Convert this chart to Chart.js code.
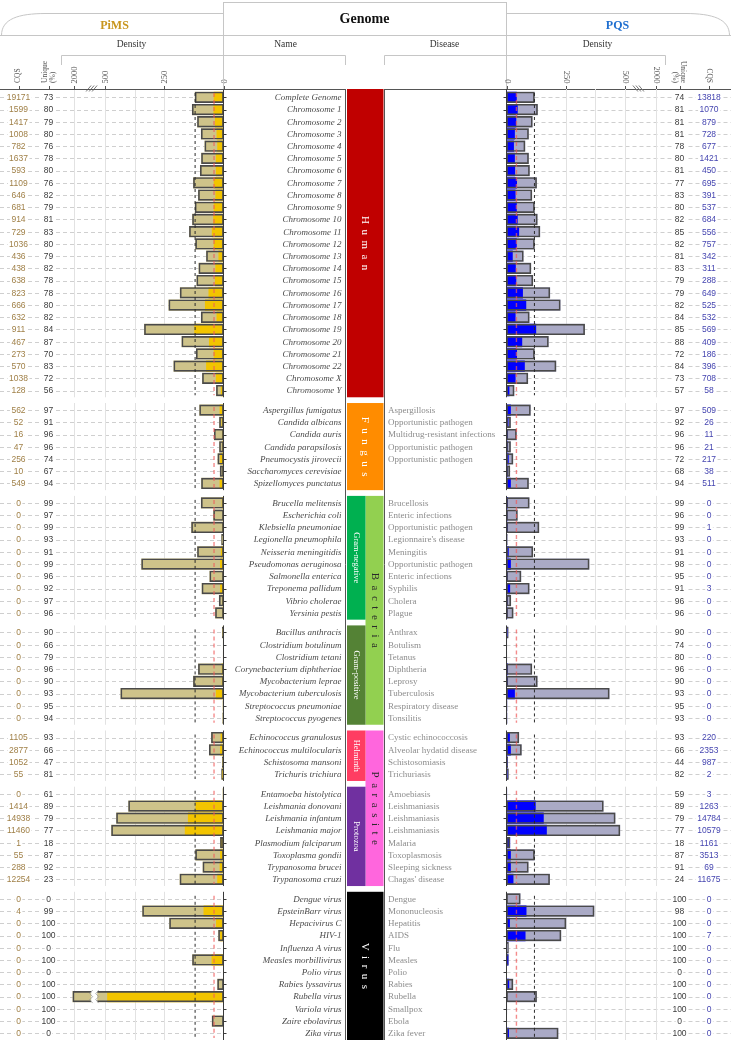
<!DOCTYPE html>
<html>
<head>
<meta charset="utf-8">
<script src="https://cdn.jsdelivr.net/npm/chart.js@4.4.1/dist/chart.umd.min.js"></script>
<style>
    html, body { margin: 0; padding: 0; background: #fff; }
    #wrap { position: relative; width: 731px; height: 1042px; }
    #wrap canvas { position: absolute; left: 0; top: 0; }
</style>
</head>
<body>
<div id="wrap">
    <canvas id="pims" width="731" height="1042"></canvas>
    <canvas id="pqs" width="731" height="1042"></canvas>
</div>
<script>
// rows per panel: human, fungus, gram-, gram+, helminth, protozoa, virus
const panelSizes = [25, 7, 10, 8, 4, 8, 12];

const names = [
    'Complete Genome', 'Chromosome 1', 'Chromosome 2', 'Chromosome 3', 'Chromosome 4', 'Chromosome 5',
    'Chromosome 6', 'Chromosome 7', 'Chromosome 8', 'Chromosome 9', 'Chromosome 10', 'Chromosome 11',
    'Chromosome 12', 'Chromosome 13', 'Chromosome 14', 'Chromosome 15', 'Chromosome 16', 'Chromosome 17',
    'Chromosome 18', 'Chromosome 19', 'Chromosome 20', 'Chromosome 21', 'Chromosome 22', 'Chromosome X', 'Chromosome Y',
    'Aspergillus fumigatus', 'Candida albicans', 'Candida auris', 'Candida parapsilosis', 'Pneumocystis jirovecii',
    'Saccharomyces cerevisiae', 'Spizellomyces punctatus',
    'Brucella melitensis', 'Escherichia coli', 'Klebsiella pneumoniae', 'Legionella pneumophila', 'Neisseria meningitidis',
    'Pseudomonas aeruginosa', 'Salmonella enterica', 'Treponema pallidum', 'Vibrio cholerae', 'Yersinia pestis',
    'Bacillus anthracis', 'Clostridium botulinum', 'Clostridium tetani', 'Corynebacterium diphtheriae',
    'Mycobacterium leprae', 'Mycobacterium tuberculosis', 'Streptococcus pneumoniae', 'Streptococcus pyogenes',
    'Echinococcus granulosus', 'Echinococcus multilocularis', 'Schistosoma mansoni', 'Trichuris trichiura',
    'Entamoeba histolytica', 'Leishmania donovani', 'Leishmania infantum', 'Leishmania major', 'Plasmodium falciparum',
    'Toxoplasma gondii', 'Trypanosoma brucei', 'Trypanosoma cruzi',
    'Dengue virus', 'EpsteinBarr virus', 'Hepacivirus C', 'HIV-1', 'Influenza A virus', 'Measles morbillivirus',
    'Polio virus', 'Rabies lyssavirus', 'Rubella virus', 'Variola virus', 'Zaire ebolavirus', 'Zika virus'
];

const diseases = [
    '', '', '', '', '', '', '', '', '', '', '', '', '', '', '', '', '', '', '', '', '', '', '', '', '',
    'Aspergillosis', 'Opportunistic pathogen', 'Multidrug-resistant infections', 'Opportunistic pathogen',
    'Opportunistic pathogen', '', '',
    'Brucellosis', 'Enteric infections', 'Opportunistic pathogen', "Legionnaire's disease", 'Meningitis',
    'Opportunistic pathogen', 'Enteric infections', 'Syphilis', 'Cholera', 'Plague',
    'Anthrax', 'Botulism', 'Tetanus', 'Diphtheria', 'Leprosy', 'Tuberculosis', 'Respiratory disease', 'Tonsilitis',
    'Cystic echinococcosis', 'Alveolar hydatid disease', 'Schistosomiasis', 'Trichuriasis',
    'Amoebiasis', 'Leishmaniasis', 'Leishmaniasis', 'Leishmaniasis', 'Malaria', 'Toxoplasmosis',
    'Sleeping sickness', "Chagas' disease",
    'Dengue', 'Mononucleosis', 'Hepatitis', 'AIDS', 'Flu', 'Measles', 'Polio', 'Rabies', 'Rubella',
    'Smallpox', 'Ebola', 'Zika fever'
];

// PiMS columns
const pimsCqs = [19171, 1599, 1417, 1008, 782, 1637, 593, 1109, 646, 681, 914, 729, 1036, 436, 438, 638, 823, 666, 632, 911, 467, 273, 570, 1038, 128,
    562, 52, 16, 47, 256, 10, 549,
    0, 0, 0, 0, 0, 0, 0, 0, 0, 0,
    0, 0, 0, 0, 0, 0, 0, 0,
    1105, 2877, 1052, 55,
    0, 1414, 14938, 11460, 1, 55, 288, 12254,
    0, 4, 0, 0, 0, 0, 0, 0, 0, 0, 0, 0];
const pimsUnique = [73, 80, 79, 80, 76, 78, 80, 76, 82, 79, 81, 83, 80, 79, 82, 78, 78, 80, 82, 84, 87, 70, 83, 72, 56,
    97, 91, 96, 96, 74, 67, 94,
    99, 97, 99, 93, 91, 99, 96, 92, 97, 96,
    90, 66, 79, 96, 90, 93, 95, 94,
    93, 66, 47, 81,
    61, 89, 79, 77, 18, 87, 92, 23,
    0, 99, 100, 100, 0, 100, 0, 100, 100, 100, 100, 0];
const pimsDensity = [120, 132, 110, 94, 79, 93, 98, 127, 106, 120, 131, 144, 118, 72, 104, 113, 183, 231, 94, 334, 176, 115, 210, 89, 30,
    101, 17, 39, 17, 24, 14, 93,
    94, 42, 135, 8, 110, 346, 58, 91, 18, 34,
    5, 1, 1, 106, 127, 434, 2, 3,
    51, 60, 5, 8,
    2, 401, 452, 473, 13, 118, 87, 184,
    0, 342, 228, 21, 0, 131, 0, 25, 2050, 0, 48, 0];
const pimsUniqueDensity = [40, 41, 35, 28, 25, 31, 31, 40, 33, 40, 42, 48, 40, 20, 33, 35, 62, 77, 28, 122, 60, 40, 72, 31, 10,
    15, 7, 5, 5, 13, 3, 15,
    6, 2, 4, 1, 10, 13, 3, 13, 4, 3,
    2, 0, 0, 6, 6, 31, 1, 1,
    11, 13, 2, 4,
    1, 117, 149, 162, 11, 13, 15, 25,
    0, 83, 30, 13, 0, 49, 0, 0, 490, 0, 0, 0];

// PQS columns
const pqsCqs = [13818, 1070, 879, 728, 677, 1421, 450, 695, 391, 537, 684, 556, 757, 342, 311, 288, 649, 525, 532, 569, 409, 186, 396, 708, 58,
    509, 26, 11, 21, 217, 38, 511,
    0, 0, 1, 0, 0, 0, 0, 3, 0, 0,
    0, 0, 0, 0, 0, 0, 0, 0,
    220, 2353, 987, 2,
    3, 1263, 14784, 10579, 1161, 3513, 69, 11675,
    0, 0, 0, 7, 0, 0, 0, 0, 0, 0, 0, 0];
const pqsUnique = [74, 81, 81, 81, 78, 80, 81, 77, 83, 80, 82, 85, 82, 81, 83, 79, 79, 82, 84, 85, 88, 72, 84, 73, 57,
    97, 92, 96, 96, 72, 68, 94,
    99, 96, 99, 93, 91, 98, 95, 91, 96, 96,
    90, 74, 80, 96, 90, 93, 95, 93,
    93, 66, 44, 82,
    59, 89, 79, 77, 18, 87, 91, 24,
    100, 98, 100, 100, 100, 100, 0, 100, 100, 100, 0, 100];
const pqsDensity = [118, 131, 109, 93, 78, 93, 97, 127, 107, 118, 130, 141, 118, 71, 103, 111, 183, 227, 96, 330, 177, 118, 209, 90, 32,
    101, 17, 42, 17, 27, 14, 93,
    96, 46, 137, 3, 111, 349, 61, 96, 18, 28,
    7, 1, 1, 107, 130, 434, 2, 2,
    52, 63, 5, 8,
    1, 409, 459, 479, 14, 118, 92, 182,
    58, 370, 251, 230, 8, 7, 0, 27, 127, 1, 0, 218];
const pqsUniqueDensity = [42, 46, 40, 34, 30, 34, 35, 43, 37, 42, 46, 52, 42, 25, 38, 40, 68, 82, 37, 124, 65, 43, 76, 37, 11,
    17, 7, 5, 4, 8, 4, 17,
    5, 3, 5, 1, 8, 17, 4, 14, 4, 3,
    3, 0, 0, 5, 5, 34, 1, 1,
    13, 17, 3, 3,
    1, 122, 156, 169, 14, 17, 17, 28,
    0, 83, 13, 79, 0, 7, 0, 10, 0, 0, 0, 9];

const densityTicks = [0, 250, 500, 2000];
const densityGrid = [250, 375, 500, 2000];

// category blocks in the middle (panel indexes)
const categories = [
    { label: 'Human', panels: [0] },
    { label: 'Fungus', panels: [1] },
    { label: 'Bacteria', panels: [2, 3], sub: [['Gram-negative', 2], ['Gram-positive', 3]] },
    { label: 'Parasite', panels: [4, 5], sub: [['Helminth', 4], ['Protozoa', 5]] },
    { label: 'Virus', panels: [6] }
];
const blockColors = {
    'Human': '#c00000', 'Fungus': '#ff8c00', 'Bacteria': '#92d050', 'Parasite': '#ff66dd', 'Virus': '#000000',
    'Gram-negative': '#00b050', 'Gram-positive': '#548235', 'Helminth': '#ff3d62', 'Protozoa': '#7030a0'
};
const blockText = { 'Human': '#fff', 'Fungus': '#fff', 'Bacteria': '#2a2a2a', 'Parasite': '#2a2a2a', 'Virus': '#fff' };

// ---- layout of rows ----
const PANEL_GAP = 0.6;
const rowPos = [];
const panels = [];
let n = 0;
panelSizes.forEach((size, p) => {
    panels.push({ first: n, last: n + size - 1 });
    for (let i = 0; i < size; i++) { rowPos.push(n + p * PANEL_GAP); n++; }
});

// broken axis: 500..2000 squeezed
const BREAK_AT = 500, BREAK_TOP = 2000, BREAK_SPAN = 132;
function squash(v) { return v <= BREAK_AT ? v : BREAK_AT + (v - BREAK_AT) * BREAK_SPAN / (BREAK_TOP - BREAK_AT); }
function unsquash(v) { return v <= BREAK_AT ? v : BREAK_AT + (v - BREAK_AT) * (BREAK_TOP - BREAK_AT) / BREAK_SPAN; }

const LinearScale = Chart.registry.getScale('linear');
class BrokenScale extends LinearScale {
    getPixelForValue(value) { return super.getPixelForValue(squash(value)); }
    getValueForPixel(pixel) { return unsquash(super.getValueForPixel(pixel)); }
}
BrokenScale.id = 'broken';
BrokenScale.defaults = LinearScale.defaults;
Chart.register(BrokenScale);

const SERIF = '"Liberation Serif", "Times New Roman", serif';
const SANS = '"Liberation Sans", Arial, sans-serif';

function line(ctx, x1, y1, x2, y2) {
    ctx.beginPath(); ctx.moveTo(x1, y1); ctx.lineTo(x2, y2); ctx.stroke();
}
function panelTop(chart, p) {
    if (p === 0) return chart.chartArea.top;
    return chart.scales.y.getPixelForValue(rowPos[panels[p].first] - 0.58);
}
function panelBottom(chart, p) {
    return chart.scales.y.getPixelForValue(rowPos[panels[p].last] + 0.55);
}
function rotText(ctx, text, x, y, rot, align, font, color) {
    ctx.save();
    ctx.translate(x, y); ctx.rotate(rot);
    ctx.font = font; ctx.fillStyle = color;
    ctx.textAlign = align; ctx.textBaseline = 'middle';
    ctx.fillText(text, 0, 0);
    ctx.restore();
}
function spacedVText(ctx, text, cx, cy, gap, font, color) {
    ctx.save();
    ctx.translate(cx, cy); ctx.rotate(Math.PI / 2);
    ctx.font = font; ctx.fillStyle = color;
    ctx.textAlign = 'left'; ctx.textBaseline = 'middle';
    const chars = [...text];
    const ws = chars.map(ch => ctx.measureText(ch).width);
    let pos = -(ws.reduce((a, b) => a + b, 0) + gap * (chars.length - 1)) / 2;
    chars.forEach((ch, i) => { ctx.fillText(ch, pos, 0); pos += ws[i] + gap; });
    ctx.restore();
}

//background: dashed rows and vertical grid per panel
function drawBackdrop(chart, side) {
    const { ctx } = chart;
    const { x, y } = chart.scales;
    ctx.save();
    ctx.lineWidth = 1;
    ctx.strokeStyle = '#cfcfcf';
    ctx.setLineDash([4, 3]);
    rowPos.forEach(p => {
        const py = Math.round(y.getPixelForValue(p)) + 0.5;
        line(ctx, side.rowX0, py, side.rowX1, py);
    });
    ctx.setLineDash([]);
    ctx.strokeStyle = '#e2e2e2';
    panels.forEach((pn, p) => {
        const t = panelTop(chart, p), b = panelBottom(chart, p);
        densityGrid.forEach(v => {
            const px = Math.round(x.getPixelForValue(v)) + 0.5;
            line(ctx, px, t, px, b);
        });
    });
    ctx.restore();
}

function drawOverlay(chart, side) {
    const { ctx } = chart;
    const { x, y } = chart.scales;
    const dir = side.key === 'pims' ? 1 : -1;
    const x0 = x.getPixelForValue(0);
    ctx.save();
    panels.forEach((pn, p) => {
        const t = panelTop(chart, p), b = panelBottom(chart, p);
        // reference lines = Complete Genome row
        ctx.lineWidth = 1;
        ctx.strokeStyle = '#2b2b2b';
        ctx.setLineDash([3, 3]);
        const xr = x.getPixelForValue(side.density[0]);
        line(ctx, xr, t + 4, xr, b - 2);
        ctx.strokeStyle = 'rgba(240,90,90,0.7)';
        ctx.lineWidth = 1.4;
        ctx.setLineDash([4, 3]);
        const xu = x.getPixelForValue(side.uniqueDensity[0]);
        line(ctx, xu, t + 4, xu, b - 2);
        // axis + row ticks
        ctx.setLineDash([]);
        ctx.lineWidth = 1;
        ctx.strokeStyle = '#3a3a3a';
        line(ctx, x0, t, x0, b);
        for (let i = pn.first; i <= pn.last; i++) {
            const py = Math.round(y.getPixelForValue(rowPos[i])) + 0.5;
            line(ctx, x0, py, x0 + dir * 3, py);
        }
    });
    // break marks on bars beyond the axis break
    const lo = 880, hi = 1170;
    side.density.forEach((v, i) => {
        if (v <= hi) return;
        const xa = x.getPixelForValue(lo), xb = x.getPixelForValue(hi);
        const py = y.getPixelForValue(rowPos[i]);
        ctx.fillStyle = '#fff';
        ctx.fillRect(Math.min(xa, xb), py - 6.5, Math.abs(xb - xa), 13);
        ctx.strokeStyle = '#9a9a9a';
        ctx.lineWidth = 0.8;
        [xa, xb].forEach(xx => {
            ctx.beginPath();
            ctx.moveTo(xx + 1.5, py - 6.5);
            ctx.lineTo(xx - 1.5, py - 3);
            ctx.lineTo(xx + 1.5, py);
            ctx.lineTo(xx - 1.5, py + 3);
            ctx.lineTo(xx + 1.5, py + 6.5);
            ctx.stroke();
        });
    });
    ctx.restore();
}

function drawColumns(chart, side) {
    const { ctx } = chart;
    const { x, y } = chart.scales;
    const isLeft = side.key === 'pims';
    ctx.save();
    ctx.font = '8.5px ' + SANS;
    ctx.textAlign = 'center';
    ctx.textBaseline = 'middle';
    const label = (txt, cx, cy, color) => {
        const w = ctx.measureText(txt).width + 3;
        ctx.fillStyle = '#fff';
        ctx.fillRect(cx - w / 2, cy - 4, w, 8);
        ctx.fillStyle = color;
        ctx.fillText(txt, cx, cy);
    };
    rowPos.forEach((p, i) => {
        const py = y.getPixelForValue(p) + 0.5;
        label(String(side.cqs[i]), side.xCqs, py, side.cqsColor);
        label(String(side.uniquePct[i]), side.xUniq, py, '#3c3c3c');
    });

    // header ticks and labels
    const rot = isLeft ? -Math.PI / 2 : Math.PI / 2;
    const align = isLeft ? 'left' : 'right';
    const tickFont = '8.5px ' + SERIF;
    const headFont = '7.5px ' + SERIF;
    ctx.strokeStyle = '#555';
    ctx.lineWidth = 1;
    densityTicks.forEach(v => {
        const px = Math.round(x.getPixelForValue(v)) + 0.5;
        rotText(ctx, String(v), px, 83.5, rot, align, tickFont, '#555');
        line(ctx, px, 86, px, 89);
    });
    [side.xCqs, side.xUniq].forEach(cx => line(ctx, Math.round(cx) + 0.5, 86, Math.round(cx) + 0.5, 89));
    rotText(ctx, 'CQS', side.xCqs, 83, rot, align, headFont, '#555');
    rotText(ctx, 'Unique', side.xUniq - 3.5 * (isLeft ? 1 : -1), 83, rot, align, headFont, '#555');
    rotText(ctx, '(%)', side.xUniq + 4.5 * (isLeft ? 1 : -1), 83, rot, align, headFont, '#555');

    // "///" on the axis break
    const bx = x.getPixelForValue(1150);
    ctx.strokeStyle = '#777';
    for (let k = -1; k <= 1; k++) {
        const cx = bx + k * 3;
        if (isLeft) line(ctx, cx - 2.5, 91.5, cx + 2.5, 85.5);
        else line(ctx, cx - 2.5, 85.5, cx + 2.5, 91.5);
    }
    ctx.restore();
}

function drawHeader(ctx) {
    ctx.save();
    ctx.strokeStyle = '#c6c6c6';
    ctx.lineWidth = 1;
    line(ctx, 0, 35.5, 731, 35.5);
    ctx.strokeRect(223.5, 2.5, 283, 33);
    ctx.beginPath();
    ctx.moveTo(1.5, 35.5); ctx.bezierCurveTo(1.5, 19, 18, 13.5, 46, 13.5); ctx.lineTo(223.5, 13.5);
    ctx.stroke();
    ctx.beginPath();
    ctx.moveTo(506.5, 13.5); ctx.lineTo(685, 13.5); ctx.bezierCurveTo(713, 13.5, 729.5, 19, 729.5, 35.5);
    ctx.stroke();
    ctx.beginPath();
    ctx.moveTo(61.5, 65); ctx.lineTo(61.5, 55.5); ctx.lineTo(345.5, 55.5); ctx.lineTo(345.5, 65);
    ctx.stroke();
    ctx.beginPath();
    ctx.moveTo(384.5, 65); ctx.lineTo(384.5, 55.5); ctx.lineTo(665.5, 55.5); ctx.lineTo(665.5, 65);
    ctx.stroke();
    line(ctx, 223.5, 35.5, 223.5, 89);
    line(ctx, 506.5, 35.5, 506.5, 89);

    ctx.textAlign = 'center';
    ctx.textBaseline = 'middle';
    ctx.font = 'bold 12px ' + SERIF;
    ctx.fillStyle = '#c8961e';
    ctx.fillText('PiMS', 114.5, 26);
    ctx.fillStyle = '#1f6fd0';
    ctx.fillText('PQS', 617.5, 26);
    ctx.font = 'bold 14px ' + SERIF;
    ctx.fillStyle = '#111';
    ctx.fillText('Genome', 364.5, 19);
    ctx.font = '9.5px ' + SERIF;
    ctx.fillStyle = '#333';
    ctx.fillText('Density', 131.5, 44.5);
    ctx.fillText('Name', 285.5, 44.5);
    ctx.fillText('Disease', 444.5, 44.5);
    ctx.fillText('Density', 597.5, 44.5);
    ctx.restore();
}

function drawMiddle(chart) {
    const { ctx } = chart;
    const { y } = chart.scales;
    const top = chart.chartArea.top, bottom = chart.chartArea.bottom;
    drawHeader(ctx);
    ctx.save();
    ctx.strokeStyle = '#555';
    ctx.lineWidth = 1;
    line(ctx, 0, top + 0.5, 345.5, top + 0.5);
    line(ctx, 384.5, top + 0.5, 731, top + 0.5);
    line(ctx, 345.5, top, 345.5, bottom);
    line(ctx, 384.5, top, 384.5, bottom);

    ctx.textBaseline = 'middle';
    rowPos.forEach((p, i) => {
        const py = y.getPixelForValue(p) + 0.5;
        ctx.font = 'italic 9px ' + SERIF;
        ctx.fillStyle = '#4b4b4b';
        ctx.textAlign = 'right';
        ctx.fillText(names[i], 341.5, py);
        if (diseases[i]) {
            ctx.font = '9px ' + SERIF;
            ctx.fillStyle = '#8c8c8c';
            ctx.textAlign = 'left';
            ctx.fillText(diseases[i], 388, py);
        }
    });

    const bx0 = 347, bx1 = 383.5, bmid = 365.5;
    categories.forEach(c => {
        const t = panelTop(chart, c.panels[0]);
        const b = panelBottom(chart, c.panels[c.panels.length - 1]);
        const cx0 = c.sub ? bmid : bx0;
        ctx.fillStyle = blockColors[c.label];
        ctx.fillRect(cx0, t, bx1 - cx0, b - t);
        if (c.sub) {
            c.sub.forEach(([label, p]) => {
                const st = panelTop(chart, p), sb = panelBottom(chart, p);
                ctx.fillStyle = blockColors[label];
                ctx.fillRect(bx0, st, bmid - bx0, sb - st);
                rotText(ctx, label, (bx0 + bmid) / 2, (st + sb) / 2, Math.PI / 2, 'center', '8.5px ' + SERIF, '#fff');
            });
        }
        spacedVText(ctx, c.label, (cx0 + bx1) / 2, (t + b) / 2, 5.5, '11px ' + SERIF, blockText[c.label]);
    });
    ctx.restore();
}

function barData(values) {
    return values.map((v, i) => ({ x: v, y: rowPos[i] }));
}

function makeChart(side) {
    return new Chart(document.getElementById(side.key), {
        type: 'bar',
        data: {
            datasets: [
                { label: 'Density', data: barData(side.density), backgroundColor: side.fill, borderWidth: 0, order: 3 },
                { label: 'Unique density', data: barData(side.uniqueDensity), backgroundColor: side.part, borderWidth: 0, order: 2 },
                { label: 'outline', data: barData(side.density), backgroundColor: 'rgba(0,0,0,0)', borderColor: '#4a4a4a', borderWidth: 1, order: 1 }
            ]
        },
        options: {
            indexAxis: 'y',
            responsive: false,
            animation: false,
            devicePixelRatio: 1,
            datasets: { bar: { grouped: false, barThickness: 10.6, borderSkipped: false } },
            layout: { padding: side.padding },
            scales: {
                x: { type: 'broken', min: 0, max: 700, reverse: side.key === 'pims', display: false },
                y: { type: 'linear', min: -0.68, max: 77.15, reverse: true, offset: false, display: false }
            },
            plugins: { legend: { display: false }, tooltip: { enabled: false } }
        },
        plugins: [{
            id: 'decor-' + side.key,
            beforeDatasetsDraw(chart) { drawBackdrop(chart, side); },
            afterDatasetsDraw(chart) { drawOverlay(chart, side); },
            afterDraw(chart) {
                drawColumns(chart, side);
                if (side.key === 'pims') drawMiddle(chart);
            }
        }]
    });
}

makeChart({
    key: 'pims', cqs: pimsCqs, uniquePct: pimsUnique, density: pimsDensity, uniqueDensity: pimsUniqueDensity,
    fill: '#cec38a', part: '#f2c400', cqsColor: '#a08048', xCqs: 18.5, xUniq: 48.5,
    rowX0: 0, rowX1: 223.5,
    padding: { left: 57.8, right: 507.5, top: 89, bottom: 2 }
});
makeChart({
    key: 'pqs', cqs: pqsCqs, uniquePct: pqsUnique, density: pqsDensity, uniqueDensity: pqsUniqueDensity,
    fill: '#aaaac6', part: '#0000ff', cqsColor: '#4545b0', xCqs: 709, xUniq: 679.5,
    rowX0: 506.5, rowX1: 731,
    padding: { left: 506.5, right: 58.8, top: 89, bottom: 2 }
});
</script>
</body>
</html>
